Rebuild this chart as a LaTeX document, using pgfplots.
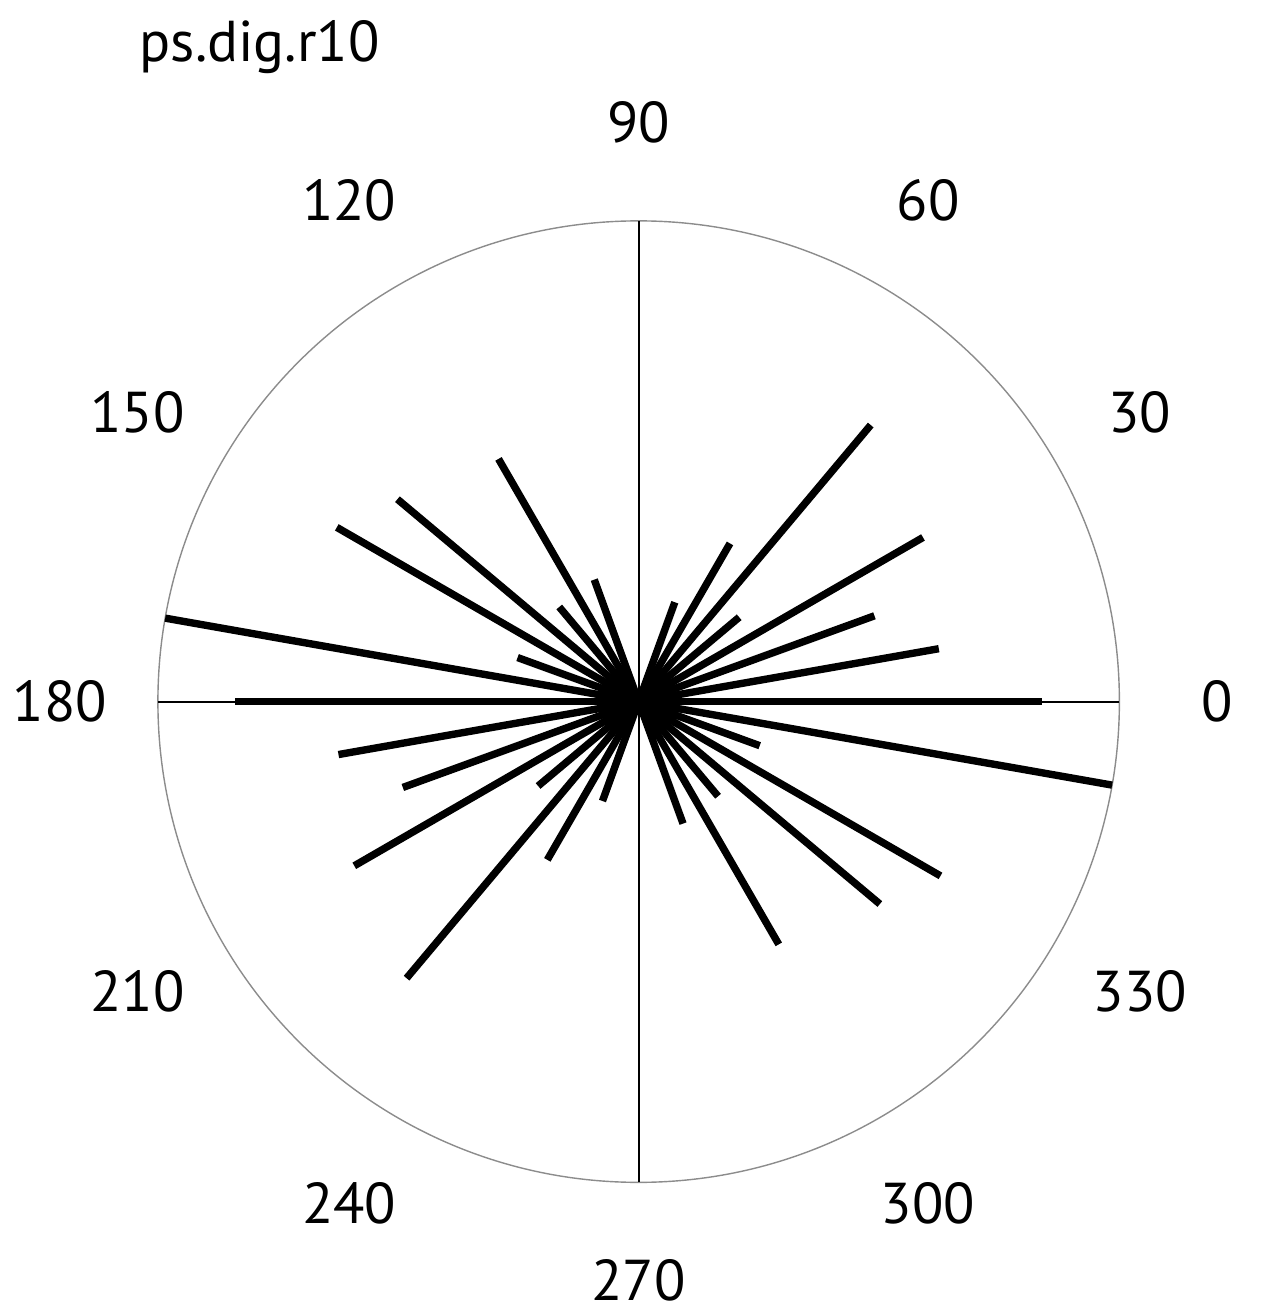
\documentclass[border=0pt]{standalone}
\usepackage{fontspec}
\setmainfont{PT Sans}
\usepackage{pgfplots}
\pgfplotsset{compat=1.18}
\usepgfplotslibrary{polar}
\begin{document}
\begin{tikzpicture}[
  spoke/.style={black, line width=2.1pt, line cap=butt},
  lab/.style={font=\fontsize{16.4}{19}\selectfont},
]
\begin{polaraxis}[
  scale only axis, width=9.62cm, height=9.62cm,
  xmin=0, xmax=360, ymin=0, ymax=1,
  xtick=\empty, ytick=\empty,
  axis line style={black!45, line width=0.4pt},
  clip=false,
]
% reference diameters
\addplot[black, line width=0.6pt, forget plot] coordinates {(0,1) (180,1)};
\addplot[black, line width=0.6pt, forget plot] coordinates {(90,1) (270,1)};
% rose spokes (angle, relative length)
\addplot[spoke, forget plot] coordinates {(0,0) (0,0.84)};
\addplot[spoke, forget plot] coordinates {(10,0) (10,0.634)};
\addplot[spoke, forget plot] coordinates {(20,0) (20,0.522)};
\addplot[spoke, forget plot] coordinates {(30,0) (30,0.683)};
\addplot[spoke, forget plot] coordinates {(40,0) (40,0.273)};
\addplot[spoke, forget plot] coordinates {(50,0) (50,0.751)};
\addplot[spoke, forget plot] coordinates {(60,0) (60,0.38)};
\addplot[spoke, forget plot] coordinates {(70,0) (70,0.22)};
\addplot[spoke, forget plot] coordinates {(110,0) (110,0.27)};
\addplot[spoke, forget plot] coordinates {(120,0) (120,0.583)};
\addplot[spoke, forget plot] coordinates {(130,0) (130,0.257)};
\addplot[spoke, forget plot] coordinates {(140,0) (140,0.655)};
\addplot[spoke, forget plot] coordinates {(150,0) (150,0.725)};
\addplot[spoke, forget plot] coordinates {(160,0) (160,0.268)};
\addplot[spoke, forget plot] coordinates {(170,0) (170,1.0)};
\addplot[spoke, forget plot] coordinates {(180,0) (180,0.84)};
\addplot[spoke, forget plot] coordinates {(190,0) (190,0.634)};
\addplot[spoke, forget plot] coordinates {(200,0) (200,0.522)};
\addplot[spoke, forget plot] coordinates {(210,0) (210,0.683)};
\addplot[spoke, forget plot] coordinates {(220,0) (220,0.273)};
\addplot[spoke, forget plot] coordinates {(230,0) (230,0.751)};
\addplot[spoke, forget plot] coordinates {(240,0) (240,0.38)};
\addplot[spoke, forget plot] coordinates {(250,0) (250,0.22)};
\addplot[spoke, forget plot] coordinates {(290,0) (290,0.27)};
\addplot[spoke, forget plot] coordinates {(300,0) (300,0.583)};
\addplot[spoke, forget plot] coordinates {(310,0) (310,0.257)};
\addplot[spoke, forget plot] coordinates {(320,0) (320,0.655)};
\addplot[spoke, forget plot] coordinates {(330,0) (330,0.725)};
\addplot[spoke, forget plot] coordinates {(340,0) (340,0.268)};
\addplot[spoke, forget plot] coordinates {(350,0) (350,1.0)};
% angle labels
\node[lab] at (axis cs:0,1.204) {0};
\node[lab] at (axis cs:30,1.204) {30};
\node[lab] at (axis cs:60,1.204) {60};
\node[lab] at (axis cs:90,1.204) {90};
\node[lab] at (axis cs:120,1.204) {120};
\node[lab] at (axis cs:150,1.204) {150};
\node[lab] at (axis cs:180,1.204) {180};
\node[lab] at (axis cs:210,1.204) {210};
\node[lab] at (axis cs:240,1.204) {240};
\node[lab] at (axis cs:270,1.204) {270};
\node[lab] at (axis cs:300,1.204) {300};
\node[lab] at (axis cs:330,1.204) {330};
\coordinate (O) at (axis cs:0,0);
\end{polaraxis}
\node[anchor=base west, inner sep=0pt, lab]
  at ([shift={(-5.00cm,6.40cm)}]O) {ps.dig.r10};
\path ([shift={(-6.39cm,-6.11cm)}]O) rectangle ([shift={(6.28cm,7.02cm)}]O);
\end{tikzpicture}
\end{document}
